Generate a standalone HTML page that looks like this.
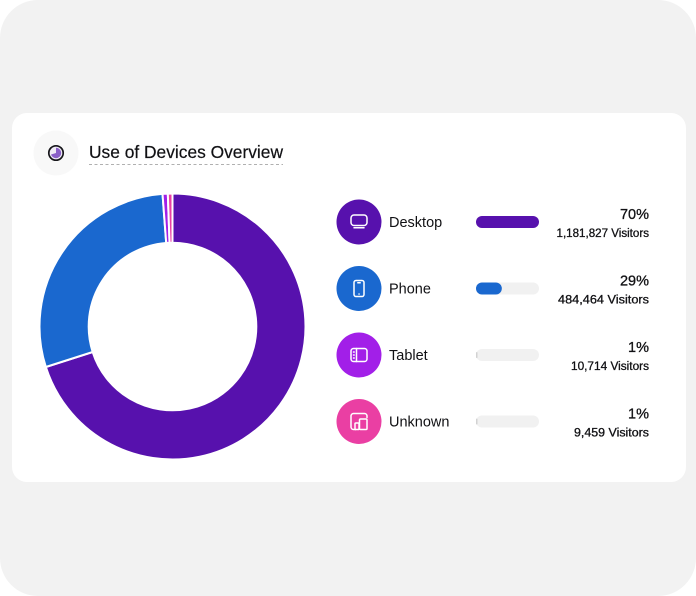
<!DOCTYPE html>
<html lang="en">
<head>
<meta charset="utf-8">
<title>Use of Devices Overview</title>
<style>
html,body{margin:0;padding:0;width:696px;height:596px;overflow:hidden;background:#fff}
svg{display:block}
text{font-family:"Liberation Sans",sans-serif;fill:#111114}
</style>
</head>
<body>
<svg id="chart" width="696" height="596" viewBox="0 0 696 596" xmlns="http://www.w3.org/2000/svg">
  <rect x="0" y="0" width="696" height="596" rx="38" fill="#f2f2f2"/>
  <rect x="12" y="113" width="674" height="369" rx="15" fill="#ffffff"/>
  <circle cx="56" cy="153" r="22.5" fill="#f8f8f8"/>
  <g>
    <circle cx="56" cy="153" r="7.2" fill="#efeaf6" stroke="#16161a" stroke-width="1.7"/>
    <path d="M56 147.8 A5.2 5.2 0 0 1 56 158.2 A5.2 5.2 0 0 1 51 154.5 L56 153 Z" fill="#8a5fc8"/>
  </g>
  <text x="89" y="158" font-size="17.5" textLength="194" lengthAdjust="spacingAndGlyphs" stroke="#111114" stroke-width=".2">Use of Devices Overview</text>
  <line x1="89" y1="164.5" x2="283" y2="164.5" stroke="#b0b0b0" stroke-width="1" stroke-dasharray="3 2.5"/>
  <g id="donut"></g>
  <g id="rows"></g>
</svg>
<script>
const categories = ["Desktop", "Phone", "Tablet", "Unknown"];
const visitors = [1181827, 484464, 10714, 9459];
const percentLabels = ["70%", "29%", "1%", "1%"];
const visitorLabels = ["1,181,827 Visitors", "484,464 Visitors", "10,714 Visitors", "9,459 Visitors"];
const colors = ["#5711ad", "#1a68cf", "#a21fe8", "#ea3fa3"];

const NS = "http://www.w3.org/2000/svg";
const cx = 172.5, cy = 326.5, outerR = 133, innerR = 83.8;
const barX = 476, barW = 63, barH = 12;
const rowStart = 222, rowStep = 66.5;
const total = visitors.reduce((a, b) => a + b, 0);
const maxValue = Math.max(...visitors);

function angleOf(v) { return v / total * Math.PI * 2; }
function barWidth(v) { return Math.max(v / maxValue * barW, 1.5); }
function polar(r, a) { return [cx + r * Math.sin(a), cy - r * Math.cos(a)]; }
function labelWidth(s) {
  const num = s.split(" ")[0];
  let w = 42;
  for (const ch of num) w += ch === "," ? 1 : ch === "1" ? 5.5 : 8;
  return w;
}
function make(tag, attrs, parent) {
  const el = document.createElementNS(NS, tag);
  for (const k in attrs) el.setAttribute(k, attrs[k]);
  parent.appendChild(el);
  return el;
}

const donut = document.getElementById("donut");
let running = 0;
visitors.forEach((v, i) => {
  const a0 = angleOf(running), a1 = angleOf(running + v);
  running += v;
  const large = a1 - a0 > Math.PI ? 1 : 0;
  const p0 = polar(outerR, a0), p1 = polar(outerR, a1), p2 = polar(innerR, a1), p3 = polar(innerR, a0);
  const slice = make("path", {
    d: `M${p0} A${outerR} ${outerR} 0 ${large} 1 ${p1} L${p2} A${innerR} ${innerR} 0 ${large} 0 ${p3} Z`,
    fill: colors[i], stroke: "#ffffff", "stroke-width": 2, "stroke-linejoin": "round"
  }, donut);
  
  
});

const icons = [
  g => {
    make("rect", {x: -8, y: -7, width: 16, height: 10.5, rx: 3}, g);
    make("path", {d: "M-5 5.8H5"}, g);
  },
  g => {
    make("rect", {x: -5, y: -8, width: 10, height: 16, rx: 2}, g);
    make("path", {d: "M-1.2 -5.8H1.2M0 5.5H0.1"}, g);
  },
  g => {
    make("rect", {x: -8, y: -6.5, width: 16, height: 13, rx: 2.5}, g);
    make("path", {d: "M-2.5 -6.5V6.5M-5.5 -3H-4.8M-5.5 0H-4.8M-5.5 3H-4.8"}, g);
  },
  g => {
    make("path", {d: "M-3.5 8H-5.5A2.5 2.5 0 0 1 -8 5.5V-5.5A2.5 2.5 0 0 1 -5.5 -8H5.5A2.5 2.5 0 0 1 8 -5.5V-4"}, g);
    make("rect", {x: -4, y: 1.5, width: 4, height: 6.5, rx: .8}, g);
    make("rect", {x: 0.5, y: -2.5, width: 7.5, height: 10.5, rx: 1}, g);
  }
];

const rows = document.getElementById("rows");
categories.forEach((name, i) => {
  const y = rowStart + i * rowStep;
  const key = name.toLowerCase();
  const row = make("g", {}, rows);
  
  

  const circle = make("circle", {cx: 359, cy: y, r: 22.5, fill: colors[i]}, row);
  
  

  const icon = make("g", {transform: `translate(359 ${y})`, fill: "none", stroke: "#ffffff", "stroke-width": 1.5, "stroke-linecap": "round"}, row);
  
  
  icons[i](icon);

  const label = make("text", {x: 389, y: y + 5, "font-size": 14.5}, row);
  
  
  label.textContent = name;

  const track = make("rect", {x: barX, y: y - 6, width: barW, height: barH, rx: 6, fill: "#f1f1f1"}, row);
  
  

  const w = barWidth(visitors[i]);
  const bar = make("rect", {x: barX, y: y - 6 + (w < 6 ? 3 : 0), width: w, height: w < 6 ? barH - 6 : barH, rx: Math.min(6, w / 2), fill: i < 2 ? colors[i] : "#d2d2d2"}, row);
  
  

  const pct = make("text", {x: 649, y: y - 3, "font-size": 14.5, "text-anchor": "end", stroke: "#111114", "stroke-width": .3}, row);
  
  
  pct.textContent = percentLabels[i];

  const vis = make("text", {x: 649, y: y + 15, "font-size": 11.5, "text-anchor": "end", textLength: labelWidth(visitorLabels[i]), lengthAdjust: "spacingAndGlyphs", stroke: "#111114", "stroke-width": .3}, row);
  
  
  vis.textContent = visitorLabels[i];
});
</script>
</body>
</html>
